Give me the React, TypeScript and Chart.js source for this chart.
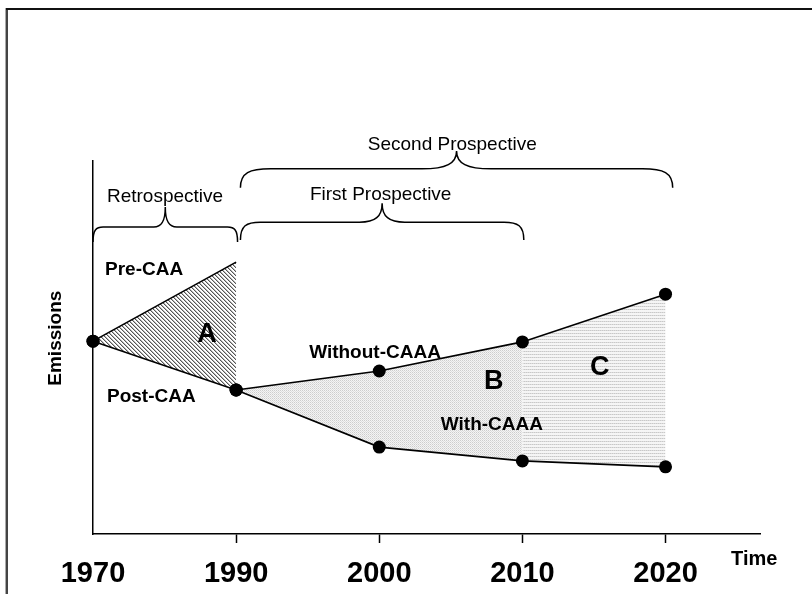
import React, { useEffect, useRef } from 'react';
import { Chart, registerables } from 'chart.js';

Chart.register(...registerables);

// ---- data ----
const yearLabels = ['1970', '1990', '2000', '2010', '2020'];
const yearPositions = [0, 1, 2, 3, 4];

const preCAAYears = [0, 1];
const preCAA = [51.7, 72.9];
const postCAAYears = [0, 1];
const postCAA = [51.7, 38.6];
const caaaYears = [1, 2, 3, 4];
const withoutCAAA = [38.6, 43.7, 51.5, 64.3];
const withCAAA = [38.6, 23.3, 19.6, 18.0];

// ---- annotations (data units) ----
const textNotes = [
  { text: 'Pre-CAA', x: 0.084, y: 70.8, align: 'left', size: 19, bold: true },
  { text: 'Post-CAA', x: 0.098, y: 36.7, align: 'left', size: 19, bold: true },
  { text: 'A', x: 0.797, y: 53.4, align: 'center', size: 27, bold: true },
  { text: 'Without-CAAA', x: 1.51, y: 48.5, align: 'left', size: 19, bold: true },
  { text: 'B', x: 2.8, y: 40.8, align: 'center', size: 27, bold: true },
  { text: 'With-CAAA', x: 2.43, y: 29.2, align: 'left', size: 19, bold: true },
  { text: 'C', x: 3.54, y: 44.5, align: 'center', size: 27, bold: true },
  { text: 'Retrospective', x: 0.503, y: 90.3, align: 'center', size: 19, bold: false },
  { text: 'First Prospective', x: 2.01, y: 90.9, align: 'center', size: 19, bold: false },
  { text: 'Second Prospective', x: 2.51, y: 104.3, align: 'center', size: 19, bold: false },
  { text: 'Time', x: 4.62, y: -6.7, align: 'center', size: 20, bold: true },
];
const braceNotes = [
  { from: 0, to: 1.01, yEnd: 78.3, yBody: 82.3, yTip: 87.7 },
  { from: 1.03, to: 3.01, yEnd: 78.8, yBody: 83.6, yTip: 88.7 },
  { from: 1.03, to: 4.05, yEnd: 92.8, yBody: 97.9, yTip: 102.7 },
];
const yTitle = { text: 'Emissions', x: -0.259, y: 52.5, size: 19 };

const FONT = '"Liberation Sans", Arial, sans-serif';

const pts = (xs: number[], ys: number[]) => xs.map((x, i) => ({ x, y: ys[i] }));

function makePattern(w: number, h: number, pix: (c: number, r: number) => number) {
  const cv = document.createElement('canvas');
  cv.width = w;
  cv.height = h;
  const c = cv.getContext('2d')!;
  const img = c.createImageData(w, h);
  for (let r = 0; r < h; r++) {
    for (let col = 0; col < w; col++) {
      const v = pix(col, r);
      const k = (r * w + col) * 4;
      img.data[k] = v;
      img.data[k + 1] = v;
      img.data[k + 2] = v;
      img.data[k + 3] = 255;
    }
  }
  c.putImageData(img, 0, 0);
  return c.createPattern(cv, 'repeat')!;
}

function drawBrace(ctx: CanvasRenderingContext2D, x1: number, x2: number, yEnd: number, yBody: number, yTip: number) {
  const w = x2 - x1;
  const xm = (x1 + x2) / 2;
  const r = w * 0.07;
  const t = w * 0.08;
  ctx.beginPath();
  ctx.moveTo(x1, yEnd);
  ctx.bezierCurveTo(x1, yBody + (yEnd - yBody) * 0.2, x1 + r * 0.3, yBody, x1 + r, yBody);
  ctx.lineTo(xm - t, yBody);
  ctx.bezierCurveTo(xm - t * 0.3, yBody, xm, yBody - (yBody - yTip) * 0.3, xm, yTip);
  ctx.bezierCurveTo(xm, yBody - (yBody - yTip) * 0.3, xm + t * 0.3, yBody, xm + t, yBody);
  ctx.lineTo(x2 - r, yBody);
  ctx.bezierCurveTo(x2 - r * 0.3, yBody, x2, yBody + (yEnd - yBody) * 0.2, x2, yEnd);
  ctx.stroke();
}

const framePlugin = {
  id: 'frame',
  beforeDraw(chart: any) {
    const ctx = chart.ctx;
    ctx.save();
    ctx.fillStyle = '#fff';
    ctx.fillRect(0, 0, chart.width, chart.height);
    ctx.fillStyle = '#aaa';
    ctx.fillRect(5, 8, 1, chart.height - 8);
    ctx.fillStyle = '#444';
    ctx.fillRect(6, 8, 2, chart.height - 8);
    ctx.fillStyle = '#111';
    ctx.fillRect(6, 8, chart.width - 6, 2);
    ctx.restore();
  },
};

const annotationPlugin = {
  id: 'annotations',
  afterDatasetsDraw(chart: any) {
    const { ctx } = chart;
    const xs = chart.scales.x;
    const ys = chart.scales.y;
    ctx.save();
    ctx.strokeStyle = '#000';
    ctx.lineWidth = 1.5;
    for (const b of braceNotes) {
      drawBrace(
        ctx,
        xs.getPixelForValue(b.from),
        xs.getPixelForValue(b.to),
        ys.getPixelForValue(b.yEnd),
        ys.getPixelForValue(b.yBody),
        ys.getPixelForValue(b.yTip)
      );
    }
    ctx.fillStyle = '#000';
    ctx.textBaseline = 'middle';
    for (const n of textNotes) {
      ctx.font = `${n.bold ? 'bold ' : ''}${n.size}px ${FONT}`;
      ctx.textAlign = n.align as CanvasTextAlign;
      ctx.fillText(n.text, xs.getPixelForValue(n.x), ys.getPixelForValue(n.y));
    }
    ctx.save();
    ctx.translate(xs.getPixelForValue(yTitle.x), ys.getPixelForValue(yTitle.y));
    ctx.rotate(-Math.PI / 2);
    ctx.font = `bold ${yTitle.size}px ${FONT}`;
    ctx.textAlign = 'center';
    ctx.fillText(yTitle.text, 0, 0);
    ctx.restore();
    ctx.restore();
  },
};

export default function App() {
  const ref = useRef<HTMLCanvasElement>(null);
  useEffect(() => {
    const canvas = ref.current!;
    const hatch = makePattern(4, 4, (c, r) => (c === r ? 85 : c === (r + 1) % 4 ? 185 : 255));
    const dotsB = makePattern(2, 2, (c, r) => (c === 0 && r === 0 ? 205 : c === 1 && r === 1 ? 222 : 244));
    const linesC = makePattern(4, 3, (c, r) => (r === 0 ? (c % 2 === 0 ? 200 : 220) : 245));

    const lineStyle = {
      borderColor: '#000',
      borderWidth: 1.6,
      pointBackgroundColor: '#000',
      pointBorderWidth: 0,
      pointRadius: 6.5,
      tension: 0,
      clip: false,
    };
    const fillStyle = {
      borderColor: 'rgba(0,0,0,0)',
      borderWidth: 0,
      pointRadius: 0,
      pointHitRadius: 0,
      tension: 0,
    };

    const chart = new Chart(canvas, {
      type: 'line',
      data: {
        datasets: [
          { label: 'Pre-CAA', data: pts(preCAAYears, preCAA), ...lineStyle, pointRadius: [6.5, 0], fill: 1, backgroundColor: hatch },
          { label: 'Post-CAA', data: pts(postCAAYears, postCAA), ...lineStyle, fill: false },
          { label: 'Without-CAAA', data: pts(caaaYears, withoutCAAA), ...lineStyle, fill: false },
          { label: 'With-CAAA', data: pts(caaaYears, withCAAA), ...lineStyle, fill: false },
          { label: 'B top', data: pts(caaaYears.slice(0, 3), withoutCAAA.slice(0, 3)), ...fillStyle, fill: 5, backgroundColor: dotsB },
          { label: 'B bottom', data: pts(caaaYears.slice(0, 3), withCAAA.slice(0, 3)), ...fillStyle, fill: false },
          { label: 'C top', data: pts(caaaYears.slice(2), withoutCAAA.slice(2)), ...fillStyle, fill: 7, backgroundColor: linesC },
          { label: 'C bottom', data: pts(caaaYears.slice(2), withCAAA.slice(2)), ...fillStyle, fill: false },
        ] as any,
      },
      options: {
        animation: false,
        responsive: false,
        devicePixelRatio: 1,
        layout: { padding: { left: 93, right: 52, top: 161, bottom: 0 } },
        plugins: {
          legend: { display: false },
          tooltip: { enabled: false },
          filler: { drawTime: 'beforeDatasetsDraw' },
        },
        scales: {
          x: {
            type: 'linear',
            min: 0,
            max: 4.66,
            afterBuildTicks: (s: any) => {
              s.ticks = yearPositions.map((v) => ({ value: v }));
            },
            afterFit: (s: any) => {
              s.height = 60;
            },
            ticks: {
              autoSkip: false,
              maxRotation: 0,
              padding: 14,
              color: '#000',
              font: { family: FONT, size: 29, weight: 'bold' },
              callback: (_v: any, i: number) => yearLabels[i],
            },
            grid: {
              drawOnChartArea: false,
              drawTicks: true,
              tickLength: 9,
              tickWidth: 1.5,
              tickColor: (c: any) => (c.tick && c.tick.value === 0 ? 'rgba(0,0,0,0)' : '#000'),
            },
            border: { display: true, color: '#000', width: 1.5 },
          },
          y: {
            type: 'linear',
            min: 0,
            max: 100,
            afterFit: (s: any) => {
              s.width = 0;
            },
            ticks: { display: false },
            grid: { drawOnChartArea: false, drawTicks: false },
            border: { display: true, color: '#000', width: 1.5 },
          },
        },
      } as any,
      plugins: [framePlugin, annotationPlugin],
    });
    return () => chart.destroy();
  }, []);

  return (
    <div style={{ position: 'absolute', left: 0, top: 0, width: 812, height: 594 }}>
      <canvas ref={ref} width={812} height={594} />
    </div>
  );
}
